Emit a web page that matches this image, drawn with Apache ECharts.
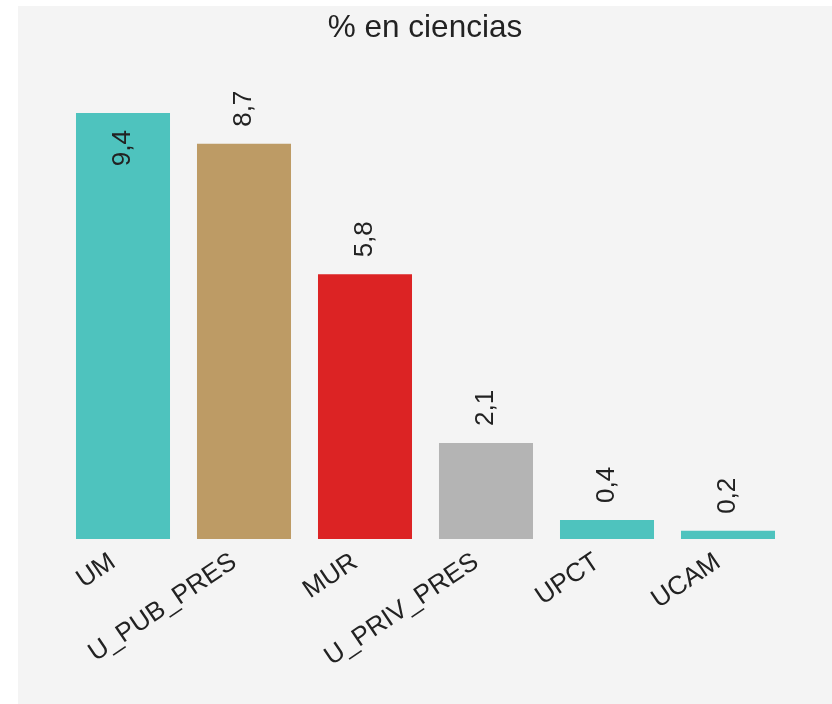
<!DOCTYPE html>
<html>
<head>
<meta charset="utf-8">
<script src="https://cdn.jsdelivr.net/npm/echarts@6/dist/echarts.min.js"></script>
<style>
  html, body { margin: 0; padding: 0; background: #ffffff; }
  #chart { position: absolute; left: 18px; top: 6px; width: 814px; height: 698px; background: #f4f4f4; }
</style>
</head>
<body>
<div id="chart"></div>
<script>
const titleText = '% en ciencias';
const categories = ['UM', 'U_PUB_PRES', 'MUR', 'U_PRIV_PRES', 'UPCT', 'UCAM'];
const values = [9.4, 8.72, 5.84, 2.12, 0.42, 0.18];
const barColors = ['#4ec3be', '#bd9b65', '#dc2324', '#b4b4b4', '#4ec3be', '#4ec3be'];

const maxVal = Math.max.apply(null, values);
const fmt = v => v.toFixed(1).replace('.', ',');

const chart = echarts.init(document.getElementById('chart'), null, { renderer: 'canvas' });
chart.setOption({
  backgroundColor: '#f4f4f4',
  animation: false,
  textStyle: { fontFamily: 'Liberation Sans, Arial, sans-serif' },
  title: {
    text: titleText,
    left: 'center',
    top: 1,
    textStyle: { fontSize: 31.5, fontWeight: 'normal', color: '#222222', fontFamily: 'Liberation Sans, Arial, sans-serif' }
  },
  grid: { left: 44.5, right: 43.5, top: 107, bottom: 165, containLabel: false },
  xAxis: {
    type: 'category',
    data: categories,
    axisLine: { show: false },
    axisTick: { show: false },
    axisLabel: {
      rotate: 34,
      margin: 14,
      interval: 0,
      padding: [0, 12, 0, 0],
      fontSize: 26,
      color: '#222222',
      fontFamily: 'Liberation Sans, Arial, sans-serif'
    }
  },
  yAxis: {
    type: 'value',
    min: 0,
    max: 'dataMax',
    show: false,
    splitLine: { show: false }
  },
  series: [{
    type: 'bar',
    barCategoryGap: '22.3%',
    data: values.map((v, i) => {
      const isMax = v === maxVal;
      return {
        value: v,
        itemStyle: { color: barColors[i] },
        label: isMax ? {
          position: 'insideTop', distance: 17, align: 'right'
        } : {
          position: 'top', distance: 17, align: 'left'
        }
      };
    }),
    label: {
      show: true,
      rotate: 90,
      verticalAlign: 'middle',
      fontSize: 26,
      color: '#222222',
      fontFamily: 'Liberation Sans, Arial, sans-serif',
      formatter: p => fmt(p.value)
    }
  }]
});
</script>
</body>
</html>
